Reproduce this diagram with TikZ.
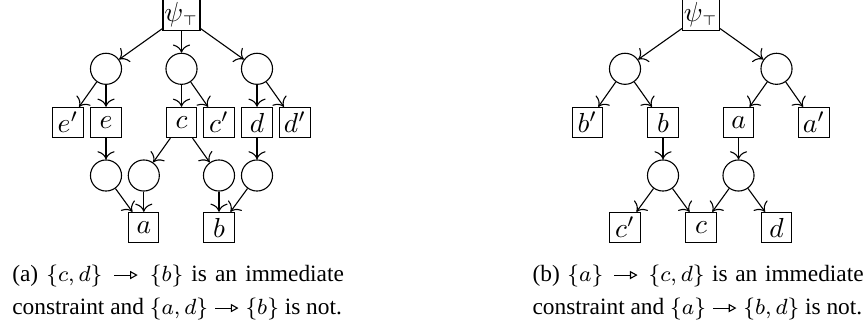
\documentclass[tikz,border=0pt]{standalone}
\usepackage[no-math]{fontspec}
\setmainfont{Liberation Serif}
\usetikzlibrary{arrows.meta}
\newcommand{\immto}{\mathrel{\tikz[baseline=-0.6ex,x=1pt,y=1pt]\draw[-{Triangle[open,length=2.8pt,width=3pt]},line width=0.4pt](0,0)--(8.5pt,0);}}
\begin{document}
\begin{tikzpicture}[x=0.3636pt,y=-0.3636pt,
  box/.style={draw, minimum width=11pt, minimum height=11pt, inner sep=0.5pt},
  circ/.style={draw, circle, minimum size=11.3pt, inner sep=0pt},
  arr/.style={-{To[scale=1.2]}},
  captext/.style={anchor=base west, inner sep=0pt, font=\fontsize{8.5}{12}\selectfont}]
\useasboundingbox (0,-0.5) rectangle (867,321);
% ---------- left tree ----------
\node[box] (lp) at (181.5,14.5) {$\psi_{\scriptscriptstyle\top}$};
\node[circ] (lc1) at (106,68.3) {};
\node[circ] (lc2) at (181.5,68.3) {};
\node[circ] (lc3) at (257,68.3) {};
\node[box] (le1) at (68,122) {$e'$};
\node[box] (le) at (106,122) {$e$};
\node[box] (lc) at (181.5,122) {$c$};
\node[box] (lc1p) at (219,122) {$c'$};
\node[box] (ld) at (257,122) {$d$};
\node[box] (ld1) at (295,122) {$d'$};
\node[circ] (ld1c) at (106,175) {};
\node[circ] (ld2c) at (143.8,175) {};
\node[circ] (ld3c) at (219,175) {};
\node[circ] (ld4c) at (257,175) {};
\node[box] (la) at (143.8,227) {$a$};
\node[box] (lb) at (219,227) {$b$};
\draw[arr] (lp) -- (lc1);
\draw[arr] (lp) -- (lc2);
\draw[arr] (lp) -- (lc3);
\draw[arr] (lc1) -- (le1);
\draw[arr] (lc1) -- (le);
\draw[arr] (lc2) -- (lc);
\draw[arr] (lc2) -- (lc1p);
\draw[arr] (lc3) -- (ld);
\draw[arr] (lc3) -- (ld1);
\draw[arr] (le) -- (ld1c);
\draw[arr] (lc) -- (ld2c);
\draw[arr] (lc) -- (ld3c);
\draw[arr] (ld) -- (ld4c);
\draw[arr] (ld1c) -- (la);
\draw[arr] (ld2c) -- (la);
\draw[arr] (ld3c) -- (lb);
\draw[arr] (ld4c) -- (lb);
% ---------- right tree ----------
\node[box] (rp) at (701,14.5) {$\psi_{\scriptscriptstyle\top}$};
\node[circ] (rc1) at (625,68.3) {};
\node[circ] (rc2) at (776.5,68.3) {};
\node[box] (rb1) at (587.3,122) {$b'$};
\node[box] (rb) at (663,122) {$b$};
\node[box] (ra) at (738.5,122) {$a$};
\node[box] (ra1) at (814,122) {$a'$};
\node[circ] (rd1) at (663,175) {};
\node[circ] (rd2) at (738.5,175) {};
\node[box] (rc1p) at (625,227) {$c'$};
\node[box] (rc) at (701,227) {$c$};
\node[box] (rd) at (776.5,227) {$d$};
\draw[arr] (rp) -- (rc1);
\draw[arr] (rp) -- (rc2);
\draw[arr] (rc1) -- (rb1);
\draw[arr] (rc1) -- (rb);
\draw[arr] (rc2) -- (ra);
\draw[arr] (rc2) -- (ra1);
\draw[arr] (rb) -- (rd1);
\draw[arr] (ra) -- (rd2);
\draw[arr] (rd1) -- (rc1p);
\draw[arr] (rd1) -- (rc);
\draw[arr] (rd2) -- (rc);
\draw[arr] (rd2) -- (rd);
% ---------- captions ----------
\node[captext] (capa1) at (11.7,281) {\makebox[120.6pt][s]{(a) $\{c,d\}\immto\{b\}$ is an immediate}};
\node[captext] (capa2) at (11.7,314) {constraint and $\{a,d\}\immto\{b\}$ is not.};
\node[captext] (capb1) at (532,281) {\makebox[120.4pt][s]{(b) $\{a\}\immto\{c,d\}$ is an immediate}};
\node[captext] (capb2) at (532,314) {constraint and $\{a\}\immto\{b,d\}$ is not.};
\end{tikzpicture}
\end{document}
